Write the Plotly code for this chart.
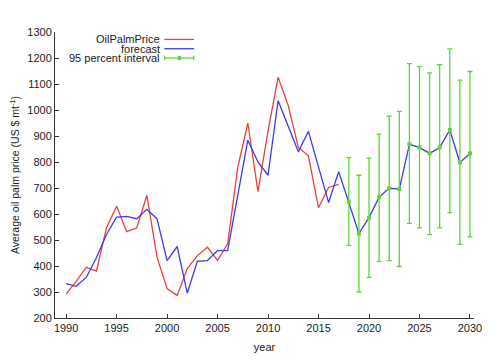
import plotly.graph_objects as go

years_hist = list(range(1990, 2018))
price = [292, 341, 395, 380, 547, 630, 532, 547, 672, 435, 313, 287, 390, 440, 472, 422,
         485, 779, 950, 686, 920, 1126, 1017, 856, 824, 624, 702, 714]

years_fc = list(range(1990, 2031))
forecast = [332, 322, 356, 432, 521, 588, 591, 582, 618, 582, 421, 475, 296, 418, 421, 459,
            459, 676, 884, 800, 749, 1036, 935, 839, 918, 780, 644, 763,
            647, 525, 586, 665, 699, 696, 868, 856, 833, 856, 923, 798, 833]

years_int = list(range(2018, 2031))
int_center = [647, 525, 586, 665, 699, 696, 868, 856, 833, 856, 923, 798, 833]
int_upper = [817, 749, 815, 907, 976, 995, 1178, 1167, 1143, 1174, 1235, 1115, 1148]
int_lower = [479, 300, 356, 418, 421, 398, 564, 547, 521, 547, 605, 483, 512]

legend_labels = ["OilPalmPrice", "forecast", "95 percent interval"]

RED = "#e8413f"
BLUE = "#3b3bef"
GREEN = "#62d43e"

fig = go.Figure()
fig.add_trace(go.Scatter(x=years_hist, y=price, mode="lines",
                         line=dict(color=RED, width=1.3), name=legend_labels[0]))
fig.add_trace(go.Scatter(x=years_fc, y=forecast, mode="lines",
                         line=dict(color=BLUE, width=1.3), name=legend_labels[1]))
fig.add_trace(go.Scatter(
    x=years_int, y=int_center, mode="markers",
    marker=dict(symbol="square", size=4, color=GREEN),
    error_y=dict(type="data", symmetric=False,
                 array=[u - c for u, c in zip(int_upper, int_center)],
                 arrayminus=[c - l for c, l in zip(int_center, int_lower)],
                 color=GREEN, thickness=1.3, width=2.5),
    name=legend_labels[2]))

# legend drawn gnuplot-style (text right-aligned, sample to the right)
font_leg = dict(family="Liberation Sans", size=11, color="#222")
rows_y = [0.974, 0.9415, 0.909]
colors = [RED, BLUE, GREEN]
shapes = []
annotations = []
for lab, yy, col in zip(legend_labels, rows_y, colors):
    annotations.append(dict(x=0.2554, y=yy, xref="paper", yref="paper", text=lab,
                            showarrow=False, xanchor="right", yanchor="middle", font=font_leg))
    shapes.append(dict(type="line", xref="paper", yref="paper", x0=0.261, x1=0.332,
                       y0=yy, y1=yy, line=dict(color=col, width=1.3)))
# caps and marker for the interval sample
yy = rows_y[2]
for xx in (0.262, 0.331):
    shapes.append(dict(type="line", xref="paper", yref="paper", x0=xx, x1=xx,
                       y0=yy - 0.008, y1=yy + 0.008, line=dict(color=GREEN, width=1.3)))
shapes.append(dict(type="rect", xref="paper", yref="paper", x0=0.293, x1=0.301,
                   y0=yy - 0.007, y1=yy + 0.007, fillcolor=GREEN, line=dict(width=0)))

# the page body has an 8px default margin, so margins are offset to compensate
fig.update_layout(
    width=502, height=361,
    margin=dict(l=47, r=36, t=24, b=51, pad=0, autoexpand=False),
    paper_bgcolor="white", plot_bgcolor="white",
    showlegend=False,
    font=dict(family="Liberation Sans", size=11, color="#222"),
    shapes=shapes, annotations=annotations,
    xaxis=dict(range=[1988.9, 2030.4], tickmode="array", automargin=False,
               tickvals=[1990, 1995, 2000, 2005, 2010, 2015, 2020, 2025, 2030],
               ticks="inside", ticklen=4, tickcolor="#333", showgrid=False, zeroline=False,
               showline=True, linecolor="#333", linewidth=1,
               title=dict(text="year", standoff=10, font=dict(size=11))),
    yaxis=dict(range=[200, 1300], dtick=100, ticks="inside", ticklen=4, tickcolor="#333",
               automargin=False,
               showgrid=False, zeroline=False, showline=True, linecolor="#333", linewidth=1,
               title=dict(text="Average oil palm price (US $ mt<sup>-1</sup>)", standoff=10,
                          font=dict(size=10.5))),
)

fig.write_html("out.html")
